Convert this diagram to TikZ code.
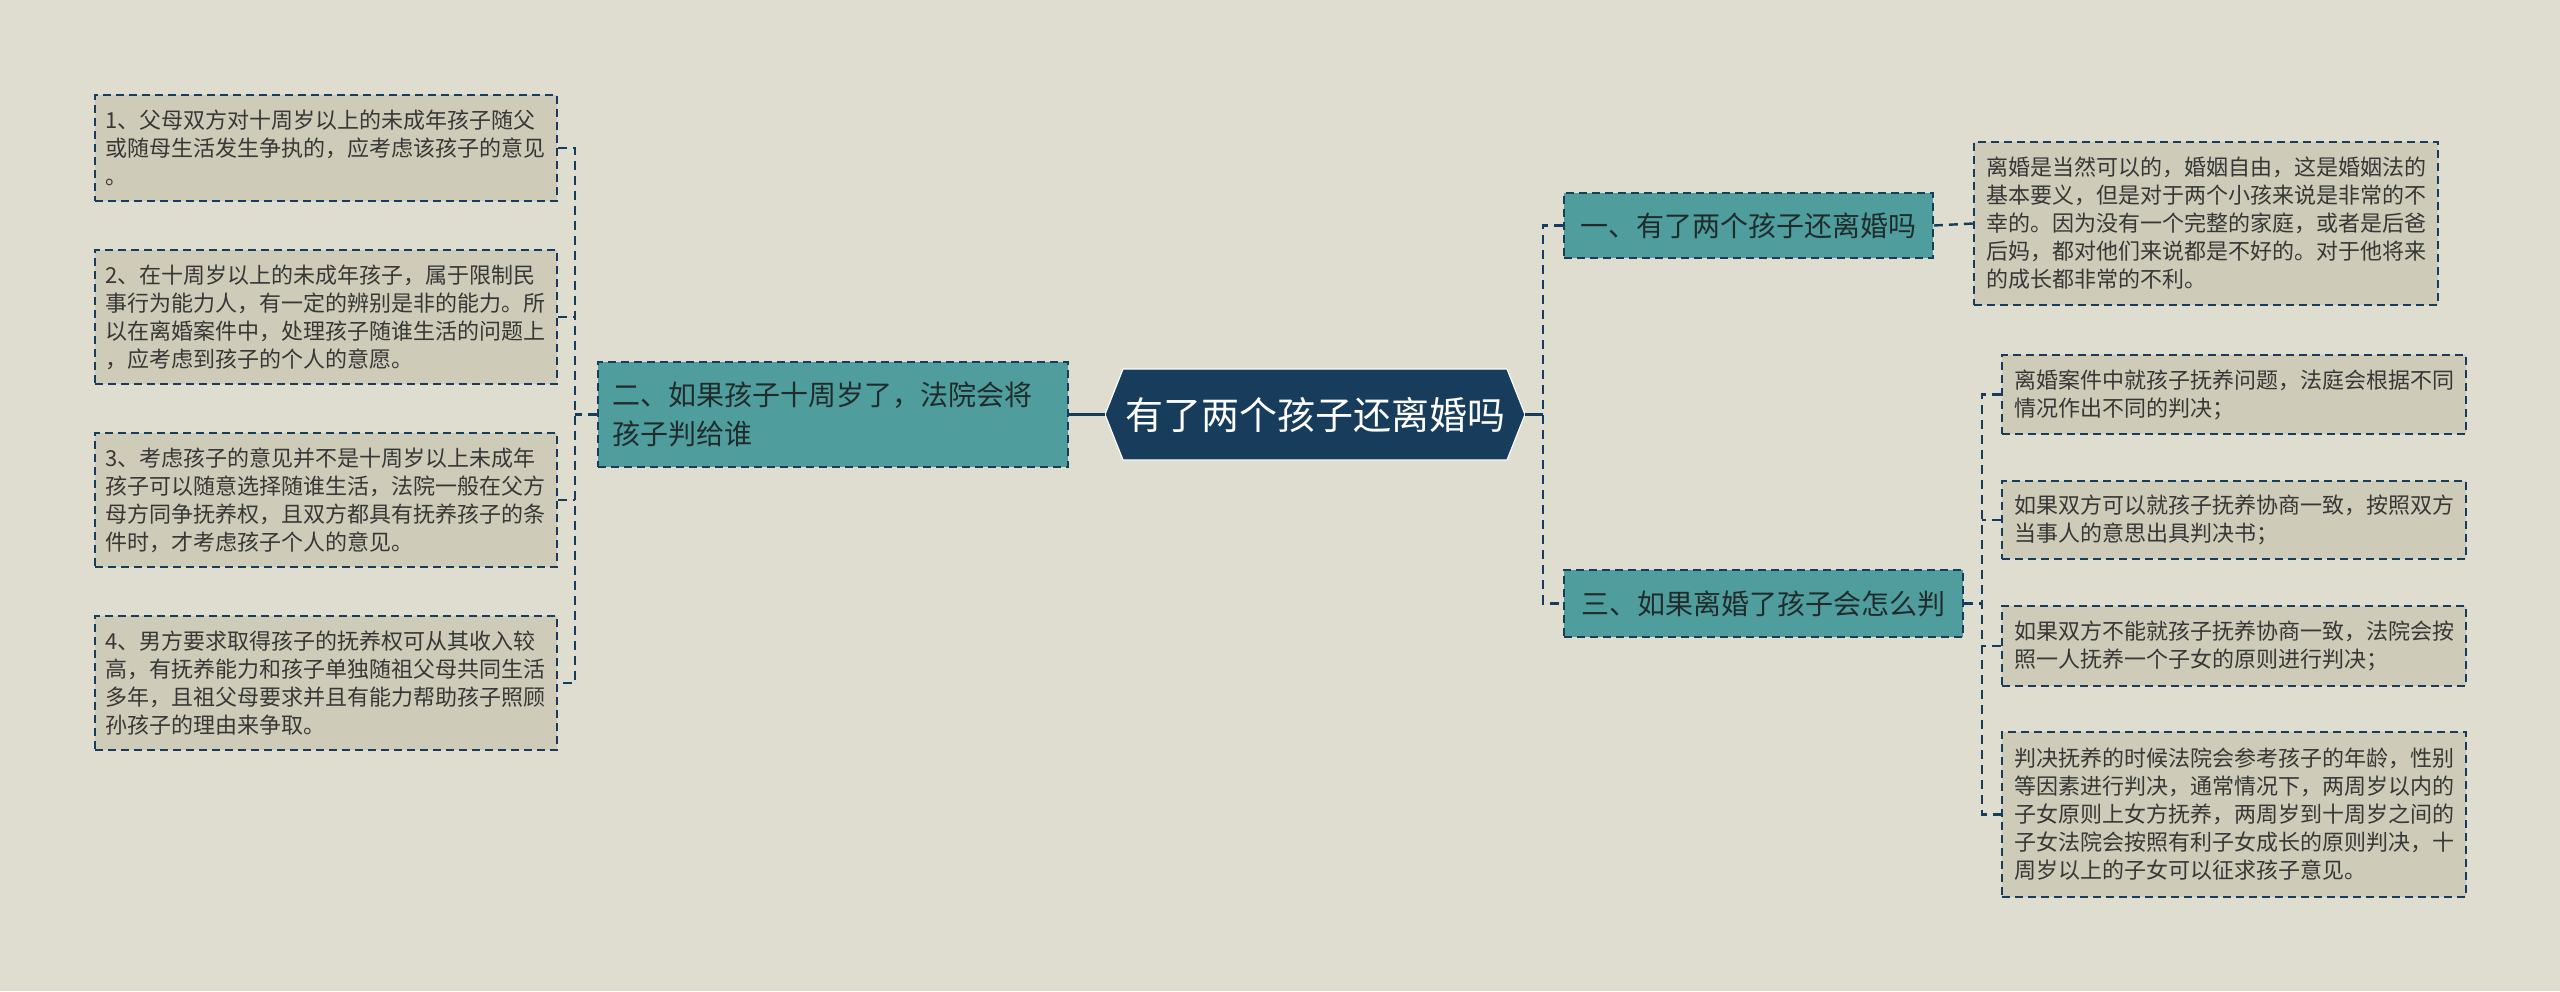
\documentclass[tikz,border=0pt]{standalone}
\usepackage{fontspec}
\newfontfamily\cjk{Noto Sans CJK SC}
\usetikzlibrary{calc}
\definecolor{bgc}{RGB}{223,221,207}
\definecolor{boxc}{RGB}{206,204,184}
\definecolor{tealc}{RGB}{80,157,157}
\definecolor{navy}{RGB}{24,61,92}
\definecolor{txt}{RGB}{55,55,55}
\definecolor{dtxt}{RGB}{32,44,44}
\tikzset{
  detail/.style={draw=navy, fill=boxc, dash pattern=on 8pt off 5pt, line width=1.6pt,
    inner ysep=0pt, align=left, text=txt, font=\cjk\fontsize{22}{28}\selectfont},
  ldetail/.style={detail, inner xsep=10pt, text width=442pt},
  rdetail/.style={detail, inner xsep=12pt, text width=440pt},
  branch/.style={draw=navy, fill=tealc, dash pattern=on 8pt off 5pt, line width=1.6pt,
    inner ysep=0pt, text=dtxt, font=\cjk\fontsize{28}{39}\selectfont},
  conn/.style={draw=navy, line width=2.4pt, dash pattern=on 9pt off 6pt},
  solidconn/.style={draw=navy, line width=2.4pt}
}
\begin{document}
\begin{tikzpicture}[x=1pt,y=-1pt]
\useasboundingbox (0,0) rectangle (2560,991);
\fill[bgc] (0,0) rectangle (2560,991);

% central hexagon
\fill[navy, draw=white, line width=1.2pt] (1105,414.5) -- (1123,369) -- (1507,369) -- (1525,414.5) -- (1507,460) -- (1123,460) -- cycle;
\node (c) [minimum width=420pt, minimum height=91pt, inner sep=0pt, text=white,
  font=\cjk\fontsize{38}{44}\selectfont] at (1315,414.5) {有了两个孩子还离婚吗};

% left branch
\node (n2) [branch, inner xsep=14pt, text width=442pt, align=left, minimum height=105pt] at (833,414.5)
  {二、如果孩子十周岁了，法院会将\\孩子判给谁};
\node (L1) [ldetail, minimum height=106pt] at (326,148)
  {1、父母双方对十周岁以上的未成年孩子随父\\或随母生活发生争执的，应考虑该孩子的意见\\。};
\node (L2) [ldetail, minimum height=134pt] at (326,317)
  {2、在十周岁以上的未成年孩子，属于限制民\\事行为能力人，有一定的辨别是非的能力。所\\以在离婚案件中，处理孩子随谁生活的问题上\\，应考虑到孩子的个人的意愿。};
\node (L3) [ldetail, minimum height=134pt] at (326,500)
  {3、考虑孩子的意见并不是十周岁以上未成年\\孩子可以随意选择随谁生活，法院一般在父方\\母方同争抚养权，且双方都具有抚养孩子的条\\件时，才考虑孩子个人的意见。};
\node (L4) [ldetail, minimum height=134pt] at (326,683)
  {4、男方要求取得孩子的抚养权可从其收入较\\高，有抚养能力和孩子单独随祖父母共同生活\\多年，且祖父母要求并且有能力帮助孩子照顾\\孙孩子的理由来争取。};

% right branches
\node (n1) [branch, minimum width=369pt, minimum height=65pt] at (1748.5,225.5) {一、有了两个孩子还离婚吗};
\node (n3) [branch, minimum width=399pt, minimum height=67pt] at (1763.5,603.5) {三、如果离婚了孩子会怎么判};

\node (R1) [rdetail, minimum height=163pt] at (2206,223.5)
  {离婚是当然可以的，婚姻自由，这是婚姻法的\\基本要义，但是对于两个小孩来说是非常的不\\幸的。因为没有一个完整的家庭，或者是后爸\\后妈，都对他们来说都是不好的。对于他将来\\的成长都非常的不利。};
\node (Ra) [rdetail, minimum height=79pt] at (2234,394.5)
  {离婚案件中就孩子抚养问题，法庭会根据不同\\情况作出不同的判决；};
\node (Rb) [rdetail, minimum height=78pt] at (2234,520)
  {如果双方可以就孩子抚养协商一致，按照双方\\当事人的意思出具判决书；};
\node (Rc) [rdetail, minimum height=80pt] at (2234,646)
  {如果双方不能就孩子抚养协商一致，法院会按\\照一人抚养一个子女的原则进行判决；};
\node (Rd) [rdetail, minimum height=165pt] at (2234,814.5)
  {判决抚养的时候法院会参考孩子的年龄，性别\\等因素进行判决，通常情况下，两周岁以内的\\子女原则上女方抚养，两周岁到十周岁之间的\\子女法院会按照有利子女成长的原则判决，十\\周岁以上的子女可以征求孩子意见。};

% junction coordinates
\coordinate (lv) at (575,414.5);
\coordinate (rv) at (1543,414.5);
\coordinate (v3) at (1982,603.5);

% connectors
\draw[solidconn] (c.west) -- (n2.east);
\draw[solidconn] (c.east) -- (rv);
\draw[conn] (n1.west) -- (n1.west -| rv) |- (n3.west);
\draw[conn] (n1.east) -- (R1.west);

\draw[conn] (L1.east) -- (L1.east -| lv) |- (L4.east);
\draw[conn] (L2.east) -- (L2.east -| lv);
\draw[conn] (L3.east) -- (L3.east -| lv);
\draw[conn] (n2.west) -- (lv);

\draw[conn] (Ra.west) -- (Ra.west -| v3) |- (Rd.west);
\draw[conn] (Rb.west) -- (Rb.west -| v3);
\draw[conn] (Rc.west) -- (Rc.west -| v3);
\draw[conn] (n3.east) -- (v3);
\end{tikzpicture}
\end{document}
